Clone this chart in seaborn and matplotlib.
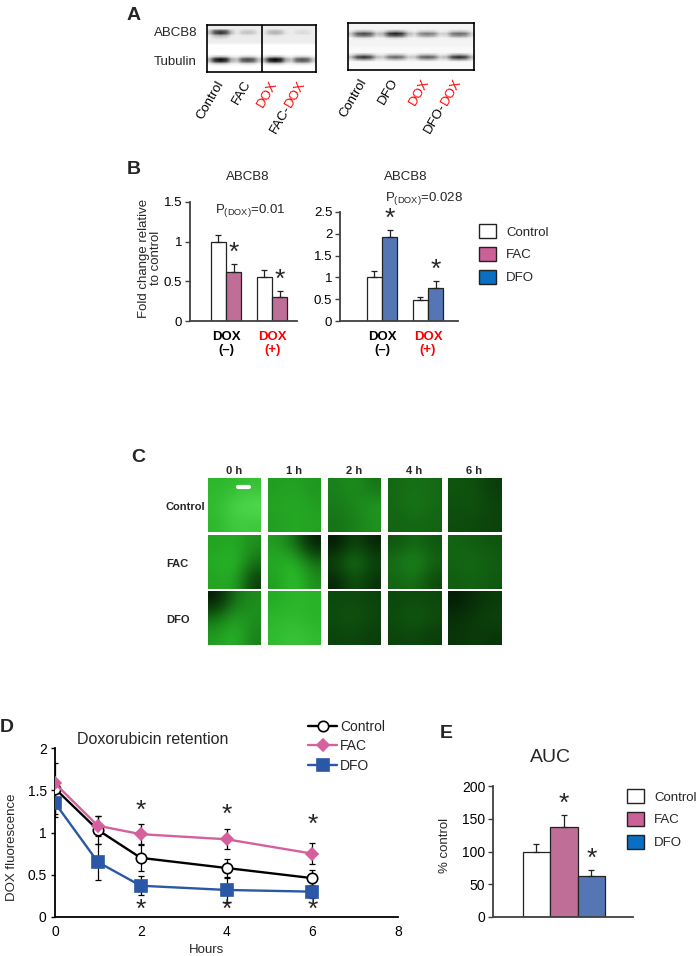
import matplotlib
matplotlib.use("Agg")
import matplotlib.pyplot as plt
import matplotlib.transforms as mtrans
from matplotlib.colors import LinearSegmentedColormap
from matplotlib.patches import Patch
from matplotlib.ticker import FormatStrFormatter
import numpy as np
import pandas as pd
import seaborn as sns

sns.set_theme(style="ticks")
plt.rcParams["font.family"] = ["Liberation Sans", "DejaVu Sans"]
plt.rcParams["axes.edgecolor"] = "#404040"
plt.rcParams["xtick.color"] = "#404040"
plt.rcParams["ytick.color"] = "#404040"
plt.rcParams["xtick.labelcolor"] = "black"
plt.rcParams["ytick.labelcolor"] = "black"

# ---- A: western blots (band darkness 0..1)
blot_fac_lanes = ["Control", "FAC", "DOX", "FAC-DOX"]
blot_fac_abcb8 = [0.85, 0.35, 0.42, 0.25]
blot_fac_tubulin = [0.97, 0.78, 1.00, 0.75]
blot_dfo_lanes = ["Control", "DFO", "DOX", "DFO-DOX"]
blot_dfo_abcb8 = [0.78, 0.90, 0.60, 0.66]
blot_dfo_tubulin = [0.88, 0.70, 0.74, 0.90]

# ---- B: ABCB8 fold change
b_groups = ["DOX (–)", "DOX (+)"]
b_fac_control = [1.00, 0.56]
b_fac_control_err = [0.09, 0.08]
b_fac = [0.62, 0.30]
b_fac_err = [0.10, 0.08]
b_dfo_control = [1.00, 0.49]
b_dfo_control_err = [0.15, 0.05]
b_dfo = [1.92, 0.76]
b_dfo_err = [0.17, 0.15]

# ---- C: micrograph brightness (coarse 3x3 grid per image)
c_times = ["0 h", "1 h", "2 h", "4 h", "6 h"]
c_rows = ["Control", "FAC", "DFO"]
c_control = [
    [[0.70, 0.72, 0.75], [0.72, 0.85, 0.90], [0.70, 0.80, 0.78]],
    [[0.60, 0.62, 0.58], [0.62, 0.66, 0.60], [0.60, 0.65, 0.62]],
    [[0.50, 0.56, 0.45], [0.48, 0.52, 0.58], [0.45, 0.50, 0.56]],
    [[0.42, 0.45, 0.42], [0.42, 0.48, 0.42], [0.40, 0.42, 0.40]],
    [[0.35, 0.33, 0.25], [0.33, 0.35, 0.28], [0.32, 0.30, 0.28]],
]
c_fac = [
    [[0.62, 0.65, 0.55], [0.65, 0.72, 0.45], [0.62, 0.65, 0.25]],
    [[0.60, 0.45, 0.12], [0.65, 0.70, 0.45], [0.60, 0.75, 0.55]],
    [[0.10, 0.30, 0.15], [0.30, 0.50, 0.30], [0.15, 0.35, 0.20]],
    [[0.35, 0.42, 0.35], [0.45, 0.55, 0.40], [0.40, 0.45, 0.30]],
    [[0.40, 0.38, 0.35], [0.40, 0.42, 0.38], [0.38, 0.40, 0.36]],
]
c_dfo = [
    [[0.10, 0.45, 0.55], [0.45, 0.62, 0.55], [0.60, 0.70, 0.50]],
    [[0.65, 0.70, 0.68], [0.70, 0.72, 0.68], [0.72, 0.78, 0.72]],
    [[0.30, 0.32, 0.28], [0.32, 0.35, 0.30], [0.28, 0.30, 0.25]],
    [[0.30, 0.32, 0.30], [0.32, 0.38, 0.32], [0.28, 0.30, 0.25]],
    [[0.12, 0.20, 0.25], [0.20, 0.25, 0.28], [0.22, 0.25, 0.22]],
]

# ---- D: doxorubicin retention
d_hours = [0, 1, 2, 4, 6]
d_control = [1.52, 1.03, 0.70, 0.58, 0.46]
d_control_err = [0.30, 0.17, 0.15, 0.11, 0.10]
d_fac = [1.58, 1.08, 0.98, 0.92, 0.75]
d_fac_err = [0.04, 0.12, 0.12, 0.12, 0.12]
d_dfo = [1.35, 0.65, 0.37, 0.32, 0.30]
d_dfo_err = [0.17, 0.21, 0.11, 0.14, 0.08]
d_star_hours = [2, 4, 6]
d_star_upper = [1.26, 1.21, 1.09]
d_star_lower = [0.08, 0.08, 0.08]

# ---- E: AUC
e_groups = ["Control", "FAC", "DFO"]
e_values = [100, 138, 63]
e_err = [12, 18, 9]

PINK = "#cc6199"
BLUE_BAR = "#4472c4"
BLUE_LEG = "#0a6fc2"
PINK_LINE = "#d65f9e"
BLUE_LINE = "#2b58a6"

W, H = 699, 956
fig = plt.figure(figsize=(W / 100, H / 100), dpi=100)
fig.patch.set_facecolor("white")


def rect(x0, y0, x1, y1):
    return [x0 / W, 1 - y1 / H, (x1 - x0) / W, (y1 - y0) / H]


def ftext(x, y, s, **kw):
    return fig.text(x / W, 1 - y / H, s, **kw)


# ================= A =================
LANE_PROFILE = np.array([0.45, 0.9, 1.0, 0.9, 0.45])


def blot_image(abcb8, tubulin, abcb8_rows, tub_rows, n_gray, bg_top, bg_low):
    # 20 rows over the blot height, 5 columns per lane
    n = len(abcb8)
    img = np.full((20, 5 * n), bg_low)
    img[:n_gray, :] = bg_top
    for i, (a, t) in enumerate(zip(abcb8, tubulin)):
        cols = slice(5 * i, 5 * i + 5)
        for row, w in abcb8_rows:
            img[row, cols] = np.maximum(img[row, cols], a * w * LANE_PROFILE)
        for row, w in tub_rows:
            img[row, cols] = np.maximum(img[row, cols], t * w * LANE_PROFILE)
    return img


def lane_labels(ax, lanes):
    renderer = fig.canvas.get_renderer()
    trans = mtrans.blended_transform_factory(ax.transData, ax.transAxes)
    ang = np.deg2rad(60)
    for i, lab in enumerate(lanes):
        kw = dict(rotation=60, rotation_mode="anchor", ha="right", va="center", fontsize=9.5)
        if "DOX" in lab:
            ax.text(i + 0.5, -0.2, "DOX", color="red", transform=trans, **kw)
            head = lab.replace("DOX", "")
            if head:
                tmp = fig.text(0, 0, "DOX", fontsize=9.5)
                w = tmp.get_window_extent(renderer).width
                tmp.remove()
                tr = mtrans.offset_copy(trans, fig=fig, x=-w * np.cos(ang), y=-w * np.sin(ang), units="dots")
                ax.text(i + 0.5, -0.2, head, color="black", transform=tr, **kw)
        else:
            ax.text(i + 0.5, -0.2, lab, color="black", transform=trans, **kw)


ax_a1 = fig.add_axes(rect(207, 25, 316, 72))
ax_a1.imshow(blot_image(blot_fac_abcb8, blot_fac_tubulin,
                        [(2, 0.9), (3, 1.0), (4, 0.5), (5, 0.3)],
                        [(13, 0.4), (14, 1.0), (15, 0.9), (16, 0.3)], 8, 0.14, 0.0),
             cmap="Greys", vmin=0, vmax=1, interpolation="bilinear", aspect="auto",
             extent=(0, 4, 20, 0))
ax_a1.axvline(2, color="black", lw=1.2)
ax_a2 = fig.add_axes(rect(348, 23, 474, 70))
ax_a2.imshow(blot_image(blot_dfo_abcb8, blot_dfo_tubulin,
                        [(3, 0.5), (4, 1.0), (5, 0.8), (6, 0.25)],
                        [(13, 0.5), (14, 1.0), (15, 0.6)], 10, 0.09, 0.05),
             cmap="Greys", vmin=0, vmax=1, interpolation="bilinear", aspect="auto",
             extent=(0, 4, 20, 0))
for ax, lanes in [(ax_a1, blot_fac_lanes), (ax_a2, blot_dfo_lanes)]:
    ax.set_xticks([])
    ax.set_yticks([])
    for sp in ax.spines.values():
        sp.set_color("black")
        sp.set_linewidth(1.2)
    lane_labels(ax, lanes)

ftext(154, 33, "ABCB8", fontsize=9.5, va="center")
ftext(154, 62, "Tubulin", fontsize=9.5, va="center")
ftext(127, 15, "A", fontsize=14, fontweight="bold", va="center")


# ================= B =================
def bar_panel(ax, ctrl, ctrl_err, trt, trt_err, trt_name, trt_color, ymax, step):
    df = pd.DataFrame({
        "dox": b_groups * 2,
        "treat": ["Control"] * 2 + [trt_name] * 2,
        "value": ctrl + trt,
        "err": ctrl_err + trt_err,
    })
    sns.barplot(data=df, x="dox", y="value", hue="treat",
                palette={"Control": "white", trt_name: trt_color},
                edgecolor="#222222", linewidth=0.9, width=0.66, errorbar=None,
                legend=False, ax=ax)
    bars = list(ax.patches)
    for k, (bar, err) in enumerate(zip(bars, df["err"])):
        cx = bar.get_x() + bar.get_width() / 2
        top = bar.get_height()
        ax.errorbar(cx, top, yerr=[[0], [err]], fmt="none", ecolor="#222222",
                    elinewidth=0.9, capsize=2.5, capthick=0.9)
        if df["treat"][k] != "Control":
            ax.annotate("*", xy=(cx, top + err), xytext=(0, 8), textcoords="offset points",
                        ha="center", va="center", fontsize=19)
    ax.set_ylim(0, ymax)
    ax.set_yticks(np.arange(0, ymax + 0.01, step))
    ax.yaxis.set_major_formatter(FormatStrFormatter("%g"))
    ax.set_xlabel("")
    ax.set_ylabel("")
    ax.set_xticks([0, 1])
    ax.set_xticklabels(["DOX\n(–)", "DOX\n(+)"], fontweight="bold", fontsize=9.5)
    for lbl, col in zip(ax.get_xticklabels(), ["black", "red"]):
        lbl.set_color(col)
        lbl.set_linespacing(1.15)
    ax.tick_params(axis="x", length=0, pad=7)
    ax.tick_params(axis="y", length=3.5, width=1, labelsize=9.5, pad=2)
    for sp in ["left", "bottom"]:
        ax.spines[sp].set_linewidth(1.3)
    sns.despine(ax=ax)


ax_b1 = fig.add_axes(rect(190, 202, 297, 321))
bar_panel(ax_b1, b_fac_control, b_fac_control_err, b_fac, b_fac_err, "FAC", PINK, 1.5, 0.5)
ax_b1.set_xlim(-0.78, 1.54)
ax_b2 = fig.add_axes(rect(340, 212, 458, 321))
bar_panel(ax_b2, b_dfo_control, b_dfo_control_err, b_dfo, b_dfo_err, "DFO", BLUE_BAR, 2.5, 0.5)
ax_b2.set_xlim(-0.91, 1.65)

ftext(248, 177, "ABCB8", fontsize=9.5, ha="center", va="center")
ftext(406, 177, "ABCB8", fontsize=9.5, ha="center", va="center")
ftext(215, 211, r"P$_{\mathregular{(DOX)}}$=0.01", fontsize=9.5, va="center")
ftext(385, 199, r"P$_{\mathregular{(DOX)}}$=0.028", fontsize=9.5, va="center")
ftext(150, 258, "Fold change relative\nto control", fontsize=9.5, rotation=90,
      ha="center", va="center", linespacing=1.0)
ftext(127, 170, "B", fontsize=14, fontweight="bold", va="center")

leg_b = [Patch(facecolor="white", edgecolor="#222222", label="Control"),
         Patch(facecolor=PINK, edgecolor="#222222", label="FAC"),
         Patch(facecolor=BLUE_LEG, edgecolor="#222222", label="DFO")]
fig.legend(handles=leg_b, loc="upper left", bbox_to_anchor=(479 / W, 1 - 224 / H),
           frameon=False, fontsize=9.5, handlelength=1.3, handleheight=1.3,
           labelspacing=0.62, handletextpad=0.75, borderpad=0, borderaxespad=0)

# ================= C =================
gfp = LinearSegmentedColormap.from_list("gfp", ["#000000", "#0e500e", "#26b026", "#66f266"])
col_x = [208, 268, 328, 388, 448]
row_y = [478, 535, 591]
for r, imgs in enumerate([c_control, c_fac, c_dfo]):
    for c, img in enumerate(imgs):
        ax = fig.add_axes(rect(col_x[c], row_y[r], col_x[c] + 53, row_y[r] + 54))
        ax.imshow(np.array(img), cmap=gfp, vmin=0, vmax=1, interpolation="bicubic", aspect="auto")
        ax.axis("off")
        if r == 0 and c == 0:
            ax.plot([0.57, 0.78], [0.83, 0.83], color="white", lw=3, transform=ax.transAxes)
for c, t in enumerate(c_times):
    ftext(col_x[c] + 26.5, 471, t, fontsize=8, fontweight="bold", ha="center", va="center")
for r, lab in enumerate(c_rows):
    ftext(166, row_y[r] + 29, lab, fontsize=8, fontweight="bold", va="center")
ftext(131, 458, "C", fontsize=14, fontweight="bold", va="center")

# ================= D =================
ax_d = fig.add_axes(rect(55, 748, 398, 917))
series = [
    ("Control", d_control, d_control_err, "black", "o", 7.5, "white", "black"),
    ("FAC", d_fac, d_fac_err, PINK_LINE, "D", 6.5, PINK_LINE, PINK_LINE),
    ("DFO", d_dfo, d_dfo_err, BLUE_LINE, "s", 8.5, BLUE_LINE, BLUE_LINE),
]
for name, vals, errs, col, mk, ms, mfc, mec in series:
    ax_d.errorbar(d_hours, vals, yerr=errs, fmt="none", ecolor="black",
                  elinewidth=0.9, capsize=2.3, capthick=0.9, zorder=2)
for name, vals, errs, col, mk, ms, mfc, mec in series:
    sns.lineplot(x=d_hours, y=vals, ax=ax_d, color=col, lw=1.7, marker=mk,
                 markersize=ms, markerfacecolor=mfc, markeredgecolor=mec,
                 markeredgewidth=1.2, label=name, zorder=3)
for h, yu, yl in zip(d_star_hours, d_star_upper, d_star_lower):
    ax_d.text(h, yu, "*", fontsize=19, ha="center", va="center")
    ax_d.text(h, yl, "*", fontsize=19, ha="center", va="center")
ax_d.set_xlim(0, 8)
ax_d.set_ylim(0, 2)
ax_d.set_xticks([0, 2, 4, 6, 8])
ax_d.set_yticks([0, 0.5, 1, 1.5, 2])
ax_d.yaxis.set_major_formatter(FormatStrFormatter("%g"))
ax_d.tick_params(axis="x", length=0, pad=6, labelsize=10)
ax_d.tick_params(axis="y", length=3, width=1, pad=3, labelsize=10, color="black")
for sp in ["left", "bottom"]:
    ax_d.spines[sp].set_color("black")
    ax_d.spines[sp].set_linewidth(1.3)
sns.despine(ax=ax_d)
ax_d.set_xlabel("")
ax_d.set_ylabel("")
handles, labels = ax_d.get_legend_handles_labels()
ax_d.get_legend().remove()
fig.legend(handles, labels, loc="upper left", bbox_to_anchor=(308 / W, 1 - 720 / H),
           frameon=False, fontsize=10, handlelength=2.1, handletextpad=0.2,
           labelspacing=0.38, borderpad=0, borderaxespad=0)
ftext(77, 740, "Doxorubicin retention", fontsize=11.5, va="center")
ftext(12, 847, "DOX fluorescence", fontsize=9.5, rotation=90, ha="center", va="center")
ftext(207, 950, "Hours", fontsize=9.5, ha="center", va="center")
ftext(0, 728, "D", fontsize=14, fontweight="bold", va="center")

# ================= E =================
ax_e = fig.add_axes(rect(493, 786, 633, 917))
df_e = pd.DataFrame({"group": e_groups, "value": e_values, "err": e_err})
sns.barplot(data=df_e, x="group", y="value", hue="group",
            palette={"Control": "white", "FAC": PINK, "DFO": BLUE_BAR},
            edgecolor="#222222", linewidth=0.9, width=1.0, errorbar=None,
            legend=False, ax=ax_e)
for bar, err, g in zip(ax_e.patches, df_e["err"], df_e["group"]):
    cx = bar.get_x() + bar.get_width() / 2
    top = bar.get_height()
    ax_e.errorbar(cx, top, yerr=[[0], [err]], fmt="none", ecolor="#222222",
                  elinewidth=0.9, capsize=2.5, capthick=0.9)
    if g != "Control":
        ax_e.annotate("*", xy=(cx, top + err), xytext=(0, 8), textcoords="offset points",
                      ha="center", va="center", fontsize=19)
ax_e.set_xlim(-1.58, 3.51)
ax_e.set_ylim(0, 200)
ax_e.set_yticks([0, 50, 100, 150, 200])
ax_e.set_xticks([])
ax_e.set_xlabel("")
ax_e.set_ylabel("")
ax_e.tick_params(axis="y", length=3.5, width=1, labelsize=10, pad=2)
for sp in ["left", "bottom"]:
    ax_e.spines[sp].set_linewidth(1.3)
sns.despine(ax=ax_e)
ftext(550, 757, "AUC", fontsize=14, ha="center", va="center")
ftext(445, 845, "% control", fontsize=9.5, rotation=90, ha="center", va="center")
ftext(440, 733, "E", fontsize=14, fontweight="bold", va="center")
leg_e = [Patch(facecolor="white", edgecolor="#222222", label="Control"),
         Patch(facecolor=PINK, edgecolor="#222222", label="FAC"),
         Patch(facecolor=BLUE_LEG, edgecolor="#222222", label="DFO")]
fig.legend(handles=leg_e, loc="upper left", bbox_to_anchor=(627 / W, 1 - 789 / H),
           frameon=False, fontsize=9.5, handlelength=1.3, handleheight=1.3,
           labelspacing=0.62, handletextpad=0.75, borderpad=0, borderaxespad=0)

fig.savefig("out.png", dpi=100, facecolor="white")
